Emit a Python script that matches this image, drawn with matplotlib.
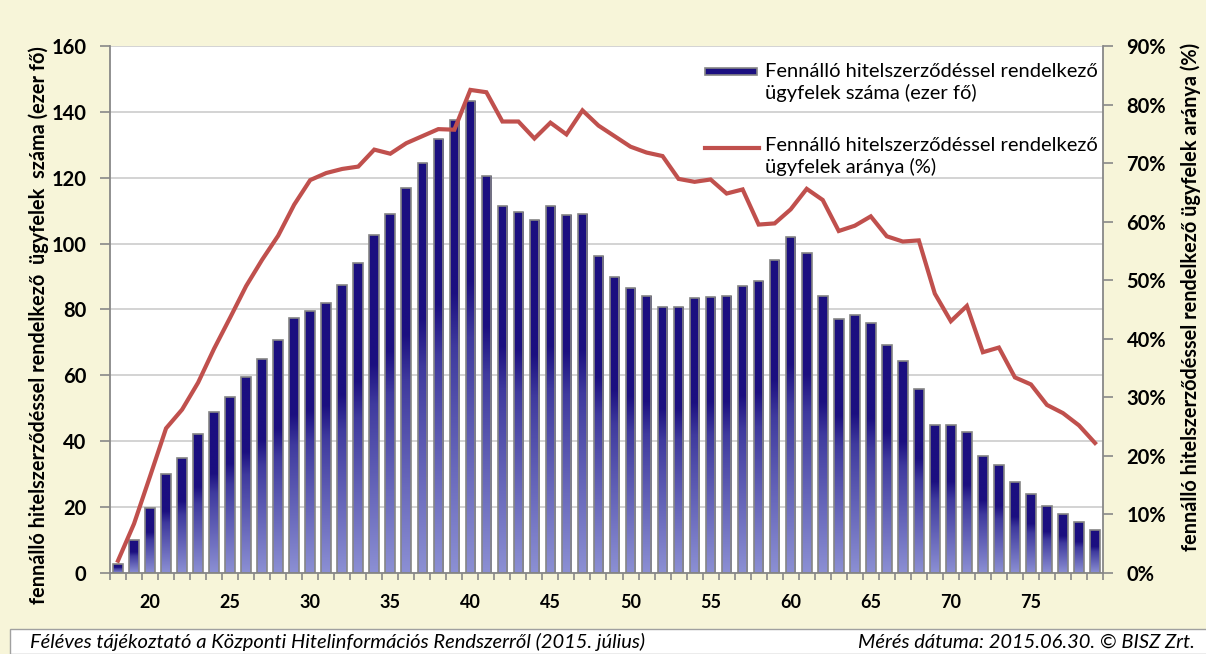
import numpy as np
import matplotlib
matplotlib.use('Agg')
import matplotlib.pyplot as plt
from matplotlib.colors import LinearSegmentedColormap
from matplotlib.patches import Rectangle
from matplotlib.lines import Line2D

plt.rcParams['font.family'] = ['Lato', 'DejaVu Sans']

# ages 18..79
ages = list(range(18, 80))
# number of clients with outstanding loan contract (thousand persons)
clients = [2.6, 10.1, 19.8, 30.1, 35.0, 42.2, 48.8, 53.5, 59.4, 65.0,
           70.6, 77.5, 79.4, 82.0, 87.3, 94.0, 102.5, 108.9, 116.8, 124.5,
           131.9, 137.5, 143.3, 120.6, 111.4, 109.7, 107.1, 111.3, 108.6, 109.1,
           96.1, 90.0, 86.5, 84.1, 80.7, 80.7, 83.5, 83.8, 84.0, 87.0,
           88.5, 95.0, 102.1, 97.2, 84.0, 77.1, 78.2, 75.9, 69.2, 64.5,
           56.0, 44.8, 44.8, 42.9, 35.5, 32.7, 27.6, 24.1, 20.3, 18.0,
           15.4, 12.9]
# share of clients with outstanding loan contract (%)
share = [2.1, 8.4, 16.5, 24.7, 27.9, 32.5, 38.3, 43.6, 49.0, 53.5,
         57.6, 62.9, 67.1, 68.3, 69.0, 69.4, 72.3, 71.6, 73.4, 74.6,
         75.8, 75.7, 82.5, 82.1, 77.1, 77.1, 74.2, 76.9, 74.9, 79.0,
         76.4, 74.6, 72.8, 71.8, 71.2, 67.3, 66.8, 67.2, 64.8, 65.5,
         59.5, 59.7, 62.1, 65.6, 63.7, 58.4, 59.3, 60.9, 57.5, 56.6,
         56.8, 47.7, 43.0, 45.6, 37.7, 38.5, 33.4, 32.2, 28.7, 27.3,
         25.2, 22.2]

label_bar = 'Fennálló hitelszerződéssel rendelkező\nügyfelek száma (ezer fő)'
label_line = 'Fennálló hitelszerződéssel rendelkező\nügyfelek aránya (%)'
ylabel_left = 'fennálló hitelszerződéssel rendelkező  ügyfelek  száma (ezer fő)'
ylabel_right = 'fennálló hitelszerződéssel rendelkező ügyfelek aránya (%)'
footer_left = 'Féléves tájékoztató a Központi Hitelinformációs Rendszerről (2015. július)'
footer_right = 'Mérés dátuma: 2015.06.30. © BISZ Zrt.'

bg = '#F7F5D9'
navy = '#1B0F80'
light = '#8C90D4'
red = '#C0504D'

fig = plt.figure(figsize=(12.06, 6.54), dpi=100, facecolor=bg)
ax = fig.add_axes([0.0912, 0.1239, 0.8234, 0.8058])
ax.set_facecolor('white')

ax.yaxis.grid(True, color='#D0D0D0', lw=1.3)
ax.set_axisbelow(True)

bars = ax.bar(ages, clients, width=0.6, color='none', edgecolor='#858585', lw=1.2, zorder=3)

# vertical gradient inside each bar
cmap = LinearSegmentedColormap.from_list('g', [(0, light), (0.5, '#3F3A9E'), (0.62, navy), (1, navy)])
grad = np.linspace(0, 1, 256).reshape(-1, 1)
for b in bars:
    x0, w, h = b.get_x(), b.get_width(), b.get_height()
    im = ax.imshow(grad, cmap=cmap, origin='lower', aspect='auto',
                   extent=[x0, x0 + w, 0, h], zorder=2)
    im.set_clip_path(b)
ax.set_xlim(17.5, 79.5)
ax.set_ylim(0, 160)

ax.set_yticks(range(0, 161, 20))
ax.set_xticks(range(20, 80, 5))
ax.set_xticks(np.arange(17.5, 80, 1), minor=True)
ax.tick_params(axis='x', which='major', length=0, labelsize=13, pad=15)
ax.tick_params(axis='x', which='minor', length=5, width=1.2, color='#888888', direction='out')
ax.tick_params(axis='y', length=7, width=1.2, color='#888888', labelsize=14.5, pad=10)
for t in ax.get_xticklabels() + ax.get_yticklabels():
    t.set_fontweight('bold')
for s in ['top', 'right']:
    ax.spines[s].set_visible(False)
for s in ['left', 'bottom']:
    ax.spines[s].set_color('#888888')
    ax.spines[s].set_linewidth(1.3)
ax.set_ylabel(ylabel_left, fontsize=14.3, fontweight='bold')
ax.yaxis.set_label_coords(-0.061, 0.47)

ax2 = ax.twinx()
ax2.patch.set_visible(False)
ax2.plot(ages, share, color=red, lw=3, zorder=5, solid_joinstyle='miter')
ax2.set_ylim(0, 90)
ax2.set_yticks(range(0, 91, 10))
ax2.set_yticklabels([f'{v}%' for v in range(0, 91, 10)])
ax2.tick_params(axis='y', length=7, width=1.2, color='#888888', labelsize=14.5, pad=10)
for t in ax2.get_yticklabels():
    t.set_fontweight('bold')
for s in ['top', 'left', 'bottom']:
    ax2.spines[s].set_visible(False)
ax2.spines['right'].set_color('#888888')
ax2.spines['right'].set_linewidth(1.3)
ax2.set_ylabel(ylabel_right, fontsize=14.3, fontweight='bold')
ax2.yaxis.set_label_coords(1.0775, 0.524)

# legend, drawn by hand so the keys sit on the first text line
ax2.add_patch(Rectangle((0.599, 0.944), 0.053, 0.015, transform=ax2.transAxes,
                        facecolor=navy, edgecolor='#858585', lw=1.2, zorder=6))
ax2.add_line(Line2D([0.599, 0.654], [0.806, 0.806], transform=ax2.transAxes,
                    color=red, lw=3, zorder=6))
ax2.text(0.660, 0.968, label_bar, transform=ax2.transAxes, fontsize=14.5,
         va='top', ha='left', linespacing=1.25, zorder=6)
ax2.text(0.660, 0.827, label_line, transform=ax2.transAxes, fontsize=14.5,
         va='top', ha='left', linespacing=1.25, zorder=6)

# footer box
fig.patches.append(Rectangle((10 / 1206, 0), 1, 25 / 654, transform=fig.transFigure,
                             facecolor='white', edgecolor='#A0A0A0', lw=1, zorder=0))
fig.text(30 / 1206, 12 / 654, footer_left, fontsize=14.5, style='italic', va='center', ha='left')
fig.text(1195 / 1206, 12 / 654, footer_right, fontsize=14.5, style='italic', va='center', ha='right')

fig.savefig('out.png', dpi=100, facecolor=bg)
